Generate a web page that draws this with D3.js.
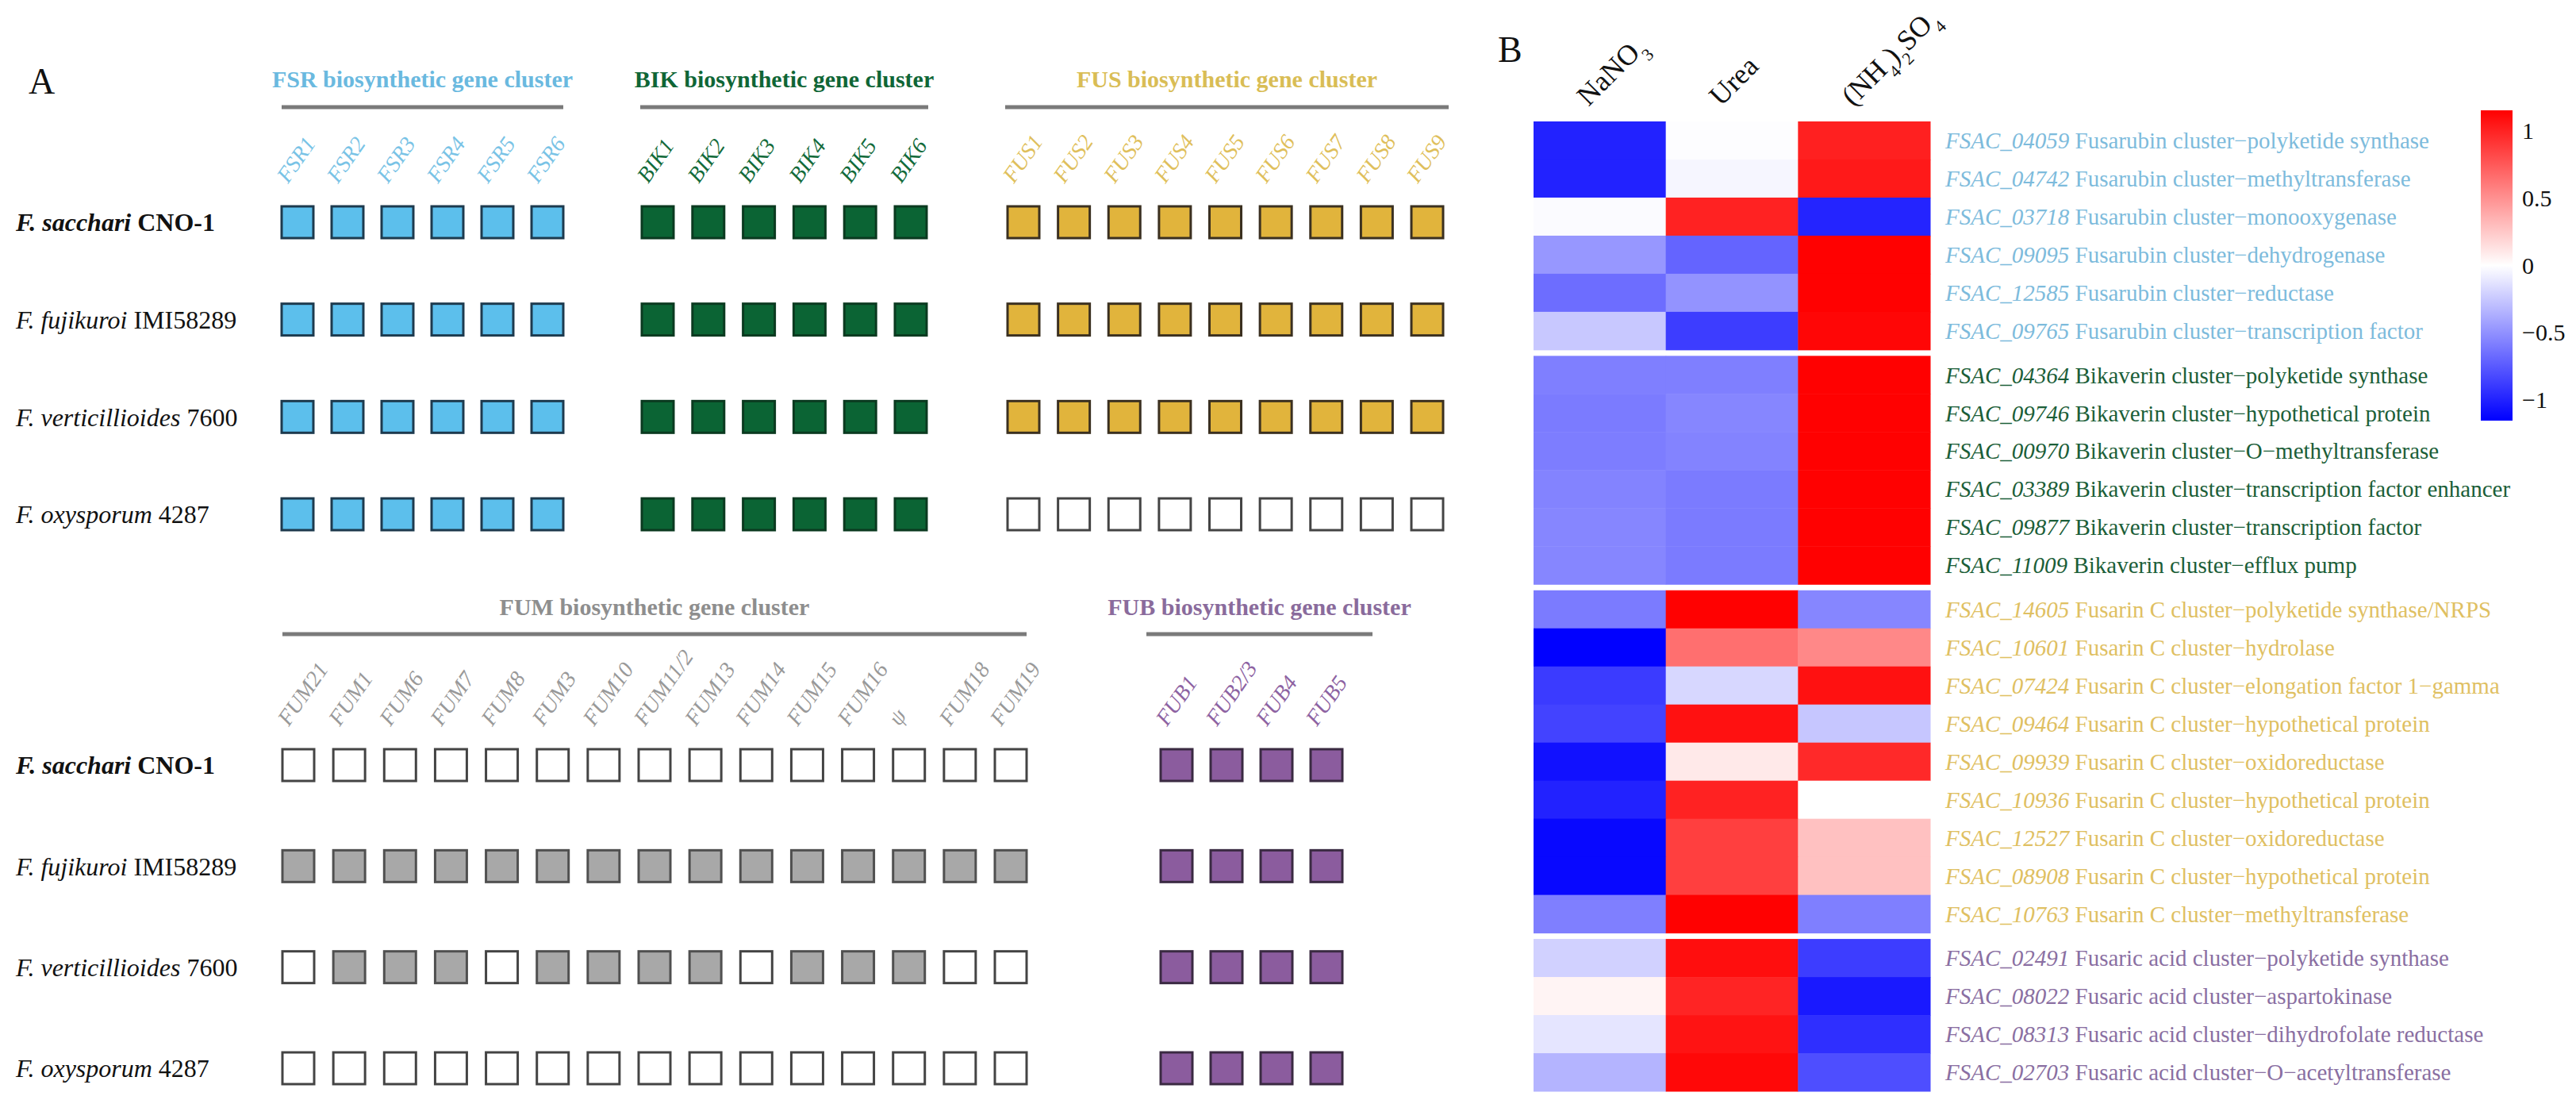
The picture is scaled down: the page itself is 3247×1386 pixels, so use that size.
<!DOCTYPE html>
<html>
<head>
<meta charset="utf-8">
<script src="https://cdn.jsdelivr.net/npm/d3@7"></script>
<style>
  html, body { margin: 0; padding: 0; background: #fff; }
  svg { display: block; font-family: "Liberation Serif", "Times New Roman", serif; }
</style>
</head>
<body>
<div id="chart"></div>
<script>
// ---------------- DATA ----------------
// Panel A: strains
const strainSpecies = ["F. sacchari", "F. fujikuroi", "F. verticillioides", "F. oxysporum"];
const strainIds = ["CNO-1", "IMI58289", "7600", "4287"];

// Gene clusters (1 = present, 0 = absent), rows follow strain order
const fsrGenes = ["FSR1", "FSR2", "FSR3", "FSR4", "FSR5", "FSR6"];
const fsrPresence = [
  [1, 1, 1, 1, 1, 1],
  [1, 1, 1, 1, 1, 1],
  [1, 1, 1, 1, 1, 1],
  [1, 1, 1, 1, 1, 1]
];
const bikGenes = ["BIK1", "BIK2", "BIK3", "BIK4", "BIK5", "BIK6"];
const bikPresence = [
  [1, 1, 1, 1, 1, 1],
  [1, 1, 1, 1, 1, 1],
  [1, 1, 1, 1, 1, 1],
  [1, 1, 1, 1, 1, 1]
];
const fusGenes = ["FUS1", "FUS2", "FUS3", "FUS4", "FUS5", "FUS6", "FUS7", "FUS8", "FUS9"];
const fusPresence = [
  [1, 1, 1, 1, 1, 1, 1, 1, 1],
  [1, 1, 1, 1, 1, 1, 1, 1, 1],
  [1, 1, 1, 1, 1, 1, 1, 1, 1],
  [0, 0, 0, 0, 0, 0, 0, 0, 0]
];
const fumGenes = ["FUM21", "FUM1", "FUM6", "FUM7", "FUM8", "FUM3", "FUM10", "FUM11/2", "FUM13",
                  "FUM14", "FUM15", "FUM16", "ψ", "FUM18", "FUM19"];
const fumPresence = [
  [0, 0, 0, 0, 0, 0, 0, 0, 0, 0, 0, 0, 0, 0, 0],
  [1, 1, 1, 1, 1, 1, 1, 1, 1, 1, 1, 1, 1, 1, 1],
  [0, 1, 1, 1, 0, 1, 1, 1, 1, 0, 1, 1, 1, 0, 0],
  [0, 0, 0, 0, 0, 0, 0, 0, 0, 0, 0, 0, 0, 0, 0]
];
const fubGenes = ["FUB1", "FUB2/3", "FUB4", "FUB5"];
const fubPresence = [
  [1, 1, 1, 1],
  [1, 1, 1, 1],
  [1, 1, 1, 1],
  [1, 1, 1, 1]
];

// Panel B: heatmap (row z-scores)
const conditions = ["NaNO3", "Urea", "(NH4)2SO4"];
const geneIds = ["FSAC_04059", "FSAC_04742", "FSAC_03718", "FSAC_09095", "FSAC_12585", "FSAC_09765",
  "FSAC_04364", "FSAC_09746", "FSAC_00970", "FSAC_03389", "FSAC_09877", "FSAC_11009",
  "FSAC_14605", "FSAC_10601", "FSAC_07424", "FSAC_09464", "FSAC_09939", "FSAC_10936", "FSAC_12527",
  "FSAC_08908", "FSAC_10763",
  "FSAC_02491", "FSAC_08022", "FSAC_08313", "FSAC_02703"];
const geneDescriptions = [
  "Fusarubin cluster−polyketide synthase", "Fusarubin cluster−methyltransferase",
  "Fusarubin cluster−monooxygenase", "Fusarubin cluster−dehydrogenase",
  "Fusarubin cluster−reductase", "Fusarubin cluster−transcription factor",
  "Bikaverin cluster−polyketide synthase", "Bikaverin cluster−hypothetical protein",
  "Bikaverin cluster−O−methyltransferase", "Bikaverin cluster−transcription factor enhancer",
  "Bikaverin cluster−transcription factor", "Bikaverin cluster−efflux pump",
  "Fusarin C cluster−polyketide synthase/NRPS", "Fusarin C cluster−hydrolase",
  "Fusarin C cluster−elongation factor 1−gamma", "Fusarin C cluster−hypothetical protein",
  "Fusarin C cluster−oxidoreductase", "Fusarin C cluster−hypothetical protein",
  "Fusarin C cluster−oxidoreductase", "Fusarin C cluster−hypothetical protein",
  "Fusarin C cluster−methyltransferase",
  "Fusaric acid cluster−polyketide synthase", "Fusaric acid cluster−aspartokinase",
  "Fusaric acid cluster−dihydrofolate reductase", "Fusaric acid cluster−O−acetyltransferase"];
const geneGroup = [0, 0, 0, 0, 0, 0, 1, 1, 1, 1, 1, 1, 2, 2, 2, 2, 2, 2, 2, 2, 2, 3, 3, 3, 3];
const valNaNO3 = [-1.00, -1.00, -0.02, -0.47, -0.66, -0.25,
  -0.58, -0.60, -0.59, -0.56, -0.55, -0.55,
  -0.60, -1.15, -0.89, -0.85, -1.08, -1.00, -1.12, -1.12, -0.58,
  -0.21, 0.05, -0.12, -0.34];
const valUrea = [-0.01, -0.04, 1.00, -0.70, -0.49, -0.88,
  -0.58, -0.55, -0.56, -0.60, -0.60, -0.60,
  1.15, 0.65, -0.18, 1.08, 0.10, 1.00, 0.87, 0.87, 1.15,
  1.09, 0.99, 1.07, 1.12];
const valAmmSulf = [1.01, 1.04, -0.99, 1.15, 1.15, 1.13,
  1.15, 1.15, 1.15, 1.15, 1.15, 1.15,
  -0.55, 0.54, 1.08, -0.26, 0.97, 0.00, 0.28, 0.28, -0.58,
  -0.88, -1.04, -0.94, -0.80];
const legendTicks = [1, 0.5, 0, -0.5, -1];

// ---------------- DRAW ----------------
const W = 3247, H = 1386;
const svg = d3.select("#chart").append("svg").attr("width", W).attr("height", H);
const serif = "'Liberation Serif', 'Times New Roman', serif";

// Panel letters
svg.append("text").attr("x", 36).attr("y", 118).attr("font-size", 46).attr("fill", "#111").text("A");
svg.append("text").attr("x", 1888).attr("y", 78).attr("font-size", 46).attr("fill", "#111").text("B");

// Row scales for the two blocks of panel A
const strainKeys = strainSpecies.map((s, i) => i);
const yTop = d3.scalePoint().domain(strainKeys).range([280, 648]);
const yBottom = d3.scalePoint().domain(strainKeys).range([964, 1346]);

function drawStrainLabels(yScale) {
  strainKeys.forEach(i => {
    const t = svg.append("text").attr("x", 20).attr("y", yScale(i)).attr("dy", "0.35em")
      .attr("font-size", 32).attr("fill", "#111")
      .attr("font-weight", i === 0 ? "bold" : "normal");
    t.append("tspan").attr("font-style", "italic").text(strainSpecies[i]);
    t.append("tspan").text(" " + strainIds[i]);
  });
}
drawStrainLabels(yTop);
drawStrainLabels(yBottom);

const clusters = [
  { title: "FSR biosynthetic gene cluster", genes: fsrGenes, presence: fsrPresence, y: yTop,
    range: [375, 690], lineY: 135, titleY: 110, pad: [0, 0],
    titleColor: "#6ab9df", labelColor: "#79c3e6", fill: "#5cbfec", stroke: "#1d3a4e" },
  { title: "BIK biosynthetic gene cluster", genes: bikGenes, presence: bikPresence, y: yTop,
    range: [829, 1148], lineY: 135, titleY: 110, pad: [-2, 2],
    titleColor: "#0f6636", labelColor: "#136b3b", fill: "#0b6434", stroke: "#0b3a20" },
  { title: "FUS biosynthetic gene cluster", genes: fusGenes, presence: fusPresence, y: yTop,
    range: [1290, 1799], lineY: 135, titleY: 110, pad: [-3, 7],
    titleColor: "#d9bd55", labelColor: "#dfbf5c", fill: "#e1b43c", stroke: "#3b3020" },
  { title: "FUM biosynthetic gene cluster", genes: fumGenes, presence: fumPresence, y: yBottom,
    range: [376, 1274], lineY: 799, titleY: 775, pad: [0, 0],
    titleColor: "#8e8e8e", labelColor: "#999999", fill: "#a8a8a8", stroke: "#505050" },
  { title: "FUB biosynthetic gene cluster", genes: fubGenes, presence: fubPresence, y: yBottom,
    range: [1483, 1672], lineY: 799, titleY: 775, pad: [-18, 38],
    titleColor: "#8a6b9c", labelColor: "#8d62a2", fill: "#8b5c9e", stroke: "#3a2a42" }
];

const SQ = 40;
clusters.forEach(c => {
  const x = d3.scalePoint().domain(c.genes).range(c.range);
  const x0 = c.range[0] - SQ / 2 + c.pad[0], x1 = c.range[1] + SQ / 2 + c.pad[1];
  svg.append("text").attr("x", (x0 + x1) / 2).attr("y", c.titleY).attr("text-anchor", "middle")
    .attr("font-size", 30).attr("font-weight", "bold").attr("fill", c.titleColor).text(c.title);
  svg.append("line").attr("x1", x0).attr("x2", x1).attr("y1", c.lineY).attr("y2", c.lineY)
    .attr("stroke", "#7a7a7a").attr("stroke-width", 5);
  const labelBase = c.y(0) - SQ / 2 - 28;
  c.genes.forEach(gname => {
    svg.append("text")
      .attr("transform", `translate(${x(gname) - 12},${labelBase}) rotate(-55)`)
      .attr("font-size", 28).attr("font-style", "italic").attr("fill", c.labelColor)
      .text(gname);
  });
  strainKeys.forEach(i => {
    c.genes.forEach((gname, j) => {
      svg.append("rect")
        .attr("x", x(gname) - SQ / 2).attr("y", c.y(i) - SQ / 2)
        .attr("width", SQ).attr("height", SQ)
        .attr("fill", c.presence[i][j] ? c.fill : "#ffffff")
        .attr("stroke", c.presence[i][j] ? c.stroke : "#444")
        .attr("stroke-width", 3);
    });
  });
});

// ---------------- Panel B: heatmap ----------------
const hmLeft = 1933, hmRight = 2433, hmTop = 153, hmBottom = 1375;
const nRows = geneIds.length;
const nGaps = d3.max(geneGroup);
const gap = 7.5;
const rowH = (hmBottom - hmTop - nGaps * gap) / nRows;
const xCond = d3.scaleBand().domain(conditions).range([hmLeft, hmRight]);
const yRowBase = d3.scaleLinear().domain([0, nRows]).range([hmTop, hmTop + nRows * rowH]);
const rowY = i => yRowBase(i) + geneGroup[i] * gap;

const color = d3.scaleLinear().domain([-1.155, 0, 1.155])
  .range(["#0000ff", "#ffffff", "#ff0000"]).clamp(true);

const valueCols = [valNaNO3, valUrea, valAmmSulf];
const cells = [];
geneIds.forEach((g, i) => conditions.forEach((c, j) => cells.push({ i, c, v: valueCols[j][i] })));

svg.append("g").selectAll("rect").data(cells).join("rect")
  .attr("x", d => xCond(d.c)).attr("y", d => rowY(d.i))
  .attr("width", xCond.bandwidth() + 0.5).attr("height", rowH + 0.5)
  .attr("fill", d => color(d.v));

// Column labels
const condLabelParts = {
  "NaNO3": [["NaNO", false], ["3", true]],
  "Urea": [["Urea", false]],
  "(NH4)2SO4": [["(NH", false], ["4", true], [")", false], ["2", true], ["SO", false], ["4", true]]
};
conditions.forEach(c => {
  const cx = xCond(c) + xCond.bandwidth() / 2;
  const t = svg.append("text")
    .attr("transform", `translate(${cx - 14},${135}) rotate(-45)`)
    .attr("font-size", 36).attr("fill", "#111");
  condLabelParts[c].forEach(([s, sub]) => {
    const ts = t.append("tspan").text(s);
    if (sub) ts.attr("font-size", 22).attr("baseline-shift", "sub");
  });
});

// Row labels
const groupColors = ["#7dbbdc", "#1b5e38", "#dfc062", "#8a6fa2"];
geneIds.forEach((g, i) => {
  const t = svg.append("text").attr("x", 2452).attr("y", rowY(i) + rowH / 2).attr("dy", "0.35em")
    .attr("font-size", 29).attr("fill", groupColors[geneGroup[i]]);
  t.append("tspan").attr("font-style", "italic").text(g);
  t.append("tspan").text(" " + geneDescriptions[i]);
});

// Color legend
const legTop = 139, legBottom = 530, legX = 3127, legW = 40;
const legScale = d3.scaleLinear().domain([-1.155, 1.155]).range([legBottom, legTop]);
const defs = svg.append("defs");
const grad = defs.append("linearGradient").attr("id", "legGrad")
  .attr("x1", 0).attr("x2", 0).attr("y1", 1).attr("y2", 0);
d3.range(0, 1.0001, 0.05).forEach(t => {
  const v = -1.155 + t * 2.31;
  grad.append("stop").attr("offset", t).attr("stop-color", color(v));
});
svg.append("rect").attr("x", legX).attr("y", legTop).attr("width", legW)
  .attr("height", legBottom - legTop).attr("fill", "url(#legGrad)");
const legAxis = d3.axisRight(legScale).tickValues(legendTicks).tickSize(0).tickPadding(12)
  .tickFormat(d3.format(""));
const legG = svg.append("g").attr("transform", `translate(${legX + legW},0)`).call(legAxis);
legG.select(".domain").remove();
legG.selectAll("text").attr("font-size", 30).attr("font-family", serif).attr("fill", "#111");
</script>
</body>
</html>
